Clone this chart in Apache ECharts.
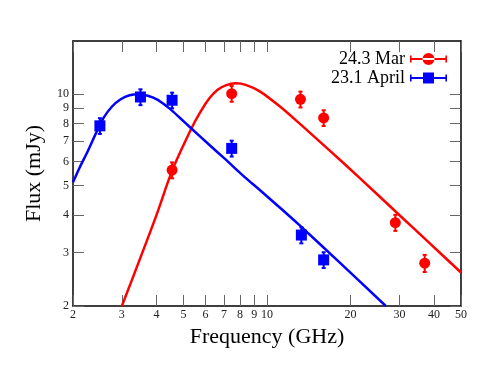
<!DOCTYPE html>
<html>
<head>
<meta charset="utf-8">
<script src="https://cdn.jsdelivr.net/npm/echarts@6/dist/echarts.min.js"></script>
<style>
  html, body { margin: 0; padding: 0; background: #fff; }
  #chart { width: 491px; height: 379px; }
</style>
</head>
<body>
<div id="chart"></div>
<script>
// tick values on both axes
const xTicks = [2, 3, 4, 5, 6, 7, 8, 9, 10, 20, 30, 40, 50]
const yTicks = [2, 3, 4, 5, 6, 7, 8, 9, 10]

// measured points (frequency GHz, flux mJy, error)
const marFreq = [4.55, 7.46, 13.2, 16.0, 29.0, 37.0]
const marFlux = [5.62, 10.05, 9.63, 8.36, 3.77, 2.77]
const marErr = [0.34, 0.6, 0.58, 0.5, 0.23, 0.18]

const aprFreq = [2.5, 3.5, 4.55, 7.46, 13.3, 16.0]
const aprFlux = [7.87, 9.8, 9.56, 6.63, 3.43, 2.84]
const aprErr = [0.47, 0.59, 0.57, 0.4, 0.21, 0.17]

// fitted curves
const marFitFreq = [3.0, 3.48, 4.0, 4.56, 5.34, 5.77, 6.22, 6.64, 7.10, 7.72, 8.38, 9.42, 11.11, 13.12, 16.83, 21.6, 30.1, 38.6, 50]
const marFitFlux = [2.0, 2.85, 4.0, 5.62, 7.71, 8.79, 9.74, 10.35, 10.71, 10.87, 10.75, 10.23, 9.13, 8.0, 6.52, 5.29, 3.98, 3.22, 2.58]

const aprFitFreq = [2.0, 2.11, 2.26, 2.43, 2.58, 2.76, 2.97, 3.20, 3.45, 3.72, 4.04, 4.46, 4.85, 5.34, 6.22, 7.04, 8.31, 9.42, 11.11, 13.12, 18.29, 26.8]
const aprFitFlux = [5.12, 5.71, 6.49, 7.50, 8.37, 9.10, 9.63, 9.93, 10.0, 9.89, 9.59, 8.97, 8.37, 7.71, 6.79, 6.13, 5.33, 4.83, 4.23, 3.69, 2.78, 2.0]

const zip = (a, b) => a.map((v, i) => [v, b[i]])
const errData = (f, v, e) => f.map((x, i) => [x, v[i] - e[i], v[i] + e[i]])

const font = 'Liberation Serif'
const red = '#ff0000'
const blue = '#0000ff'

const chart = echarts.init(document.getElementById('chart'), null, { renderer: 'canvas' })

const errorBar = (color) => (params, api) => {
  const lo = api.coord([api.value(0), api.value(1)])
  const hi = api.coord([api.value(0), api.value(2)])
  const st = { stroke: color, lineWidth: 2 }
  return {
    type: 'group',
    children: [
      { type: 'line', shape: { x1: lo[0], y1: lo[1], x2: hi[0], y2: hi[1] }, style: st },
      { type: 'line', shape: { x1: lo[0] - 2, y1: lo[1], x2: lo[0] + 2, y2: lo[1] }, style: st },
      { type: 'line', shape: { x1: hi[0] - 2, y1: hi[1], x2: hi[0] + 2, y2: hi[1] }, style: st }
    ]
  }
}

const tickStyle = { inside: true, length: 11, customValues: xTicks, lineStyle: { color: '#666', width: 1 } }
const yTickStyle = { inside: true, length: 11, customValues: yTicks, lineStyle: { color: '#666', width: 1 } }

const option = {
  animation: false,
  grid: { left: 73, top: 41, right: 30, bottom: 73 },
  legend: {
    orient: 'vertical',
    right: 39,
    top: 45,
    align: 'right',
    itemWidth: 37,
    itemHeight: 12,
    itemGap: 1,
    textStyle: { fontFamily: font, fontSize: 18, color: '#000' },
    data: [
      { name: '24.3 Mar', icon: 'path://M0,5h37v2h-37z M0,2.5h1.6v7h-1.6z M35.4,2.5h1.6v7h-1.6z M12.5,6a6,6 0 1,0 12,0a6,6 0 1,0 -12,0z' },
      { name: '23.1 April', icon: 'path://M0,5h37v2h-37z M0,2.5h1.6v7h-1.6z M35.4,2.5h1.6v7h-1.6z M13,0.5h11v11h-11z' }
    ]
  },
  xAxis: [
    {
      type: 'log', logBase: 10, min: 2, max: 50,
      name: 'Frequency (GHz)', nameLocation: 'middle', nameGap: 10,
      nameTextStyle: { fontFamily: font, fontSize: 22, color: '#000' },
      axisLine: { lineStyle: { color: '#000', width: 1.5 } },
      axisTick: tickStyle,
      minorTick: { show: false },
      axisLabel: { customValues: xTicks, fontFamily: font, fontSize: 12, color: '#222', margin: 3 },
      splitLine: { show: false }
    },
    {
      type: 'log', logBase: 10, min: 2, max: 50, position: 'top',
      axisLine: { lineStyle: { color: '#000', width: 1.5 } },
      axisTick: tickStyle,
      axisLabel: { show: false },
      splitLine: { show: false }
    }
  ],
  yAxis: [
    {
      type: 'log', logBase: 10, min: 2, max: 15,
      name: 'Flux (mJy)', nameLocation: 'middle', nameGap: 28,
      nameTextStyle: { fontFamily: font, fontSize: 22, color: '#000' },
      axisLine: { lineStyle: { color: '#000', width: 1.5 } },
      axisTick: yTickStyle,
      axisLabel: { customValues: yTicks, fontFamily: font, fontSize: 12, color: '#222', margin: 4 },
      splitLine: { show: false }
    },
    {
      type: 'log', logBase: 10, min: 2, max: 15, position: 'right',
      axisLine: { lineStyle: { color: '#000', width: 1.5 } },
      axisTick: yTickStyle,
      axisLabel: { show: false },
      splitLine: { show: false }
    }
  ],
  series: [
    {
      name: 'fitMar', type: 'line', data: zip(marFitFreq, marFitFlux),
      smooth: 0.3, showSymbol: false, clip: true,
      lineStyle: { color: red, width: 2.5 }, z: 2
    },
    {
      name: 'fitApr', type: 'line', data: zip(aprFitFreq, aprFitFlux),
      smooth: 0.3, showSymbol: false, clip: true,
      lineStyle: { color: blue, width: 2.5 }, z: 2
    },
    {
      name: 'errMar', type: 'custom', data: errData(marFreq, marFlux, marErr),
      renderItem: errorBar(red), z: 3
    },
    {
      name: 'errApr', type: 'custom', data: errData(aprFreq, aprFlux, aprErr),
      renderItem: errorBar(blue), z: 3
    },
    {
      name: '24.3 Mar', type: 'scatter', data: zip(marFreq, marFlux),
      symbol: 'circle', symbolSize: 11, itemStyle: { color: red, opacity: 1 }, z: 4
    },
    {
      name: '23.1 April', type: 'scatter', data: zip(aprFreq, aprFlux),
      symbol: 'rect', symbolSize: 11, itemStyle: { color: blue, opacity: 1 }, z: 4
    }
  ]
}

chart.setOption(option)
</script>
</body>
</html>
